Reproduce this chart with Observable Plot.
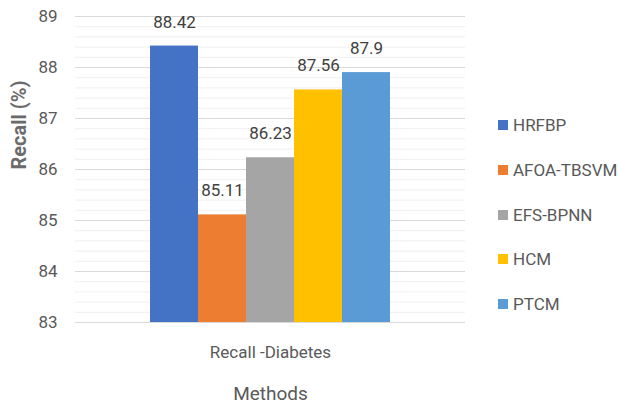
<!DOCTYPE html>
<html><head><meta charset="utf-8">
<script src="https://cdn.jsdelivr.net/npm/d3@7"></script>
<script src="https://cdn.jsdelivr.net/npm/@observablehq/plot@0.6"></script>
<style>
body{margin:0;background:#fff;font-family:Roboto,sans-serif;}
#wrap{position:relative;width:618px;height:406px;}
#legend{position:absolute;left:498px;top:115px;}
.item{display:flex;align-items:center;height:20px;margin-bottom:24.8px;font-size:17px;color:#595959;white-space:nowrap;}
.sw{width:10px;height:10px;margin-right:5px;flex:none;}
</style></head><body><div id="wrap"></div>
<script>
const methods = ["HRFBP","AFOA-TBSVM","EFS-BPNN","HCM","PTCM"];
const recall = [88.42,85.11,86.23,87.56,87.9];
const valueLabels = ["88.42","85.11","86.23","87.56","87.9"];
const colors = ["#4472C4","#ED7D31","#A5A5A5","#FFC000","#5B9BD5"];
const yTicks = [83,84,85,86,87,88,89];
const category = "Recall -Diabetes";
const xTitle = "Methods";
const yTitle = "Recall (%)";

const data = methods.map((m,i)=>({method:m, value:recall[i], label:valueLabels[i]}));
const minor = d3.range(0,31).map(i=>83+i*0.2);

const chart = Plot.plot({
  width:618, height:406, marginLeft:75, marginRight:153, marginTop:16, marginBottom:84,
  style:{fontFamily:"Roboto, sans-serif", color:"#595959", background:"#fff"},
  x:{domain:methods, paddingInner:0, paddingOuter:1.48, axis:null},
  y:{domain:[83,89], axis:null},
  color:{domain:methods, range:colors},
  marks:[
    Plot.ruleY(minor, {stroke:"#efefef"}),
    Plot.ruleY(yTicks, {stroke:"#d9d9d9"}),
    Plot.barY(data, {x:"method", y1:83, y2:"value", fill:"method"}),
    Plot.text(data, {x:"method", y:"value", text:"label", dy:-24, fontSize:17, fill:"#404040"}),
    Plot.axisY(yTicks, {tickSize:0, tickPadding:18, fontSize:17, label:null, tickFormat:"d", color:"#595959"}),
    Plot.text([category], {frameAnchor:"bottom", dy:35, fontSize:17, fill:"#595959"}),
    Plot.text([xTitle], {frameAnchor:"bottom", dy:77, fontSize:19, fill:"#595959"}),
    Plot.text([yTitle], {frameAnchor:"left", dx:-56, rotate:-90, fontSize:20, fontWeight:"bold", fill:"#6b6b6b"})
  ]
});
const wrap = document.getElementById("wrap");
wrap.appendChild(chart);
const legend = document.createElement("div");
legend.id = "legend";
methods.forEach((m,i)=>{
  const it = document.createElement("div"); it.className="item";
  const sw = document.createElement("span"); sw.className="sw"; sw.style.background=colors[i];
  const t = document.createElement("span"); t.textContent=m;
  it.appendChild(sw); it.appendChild(t); legend.appendChild(it);
});
wrap.appendChild(legend);
</script></body></html>
